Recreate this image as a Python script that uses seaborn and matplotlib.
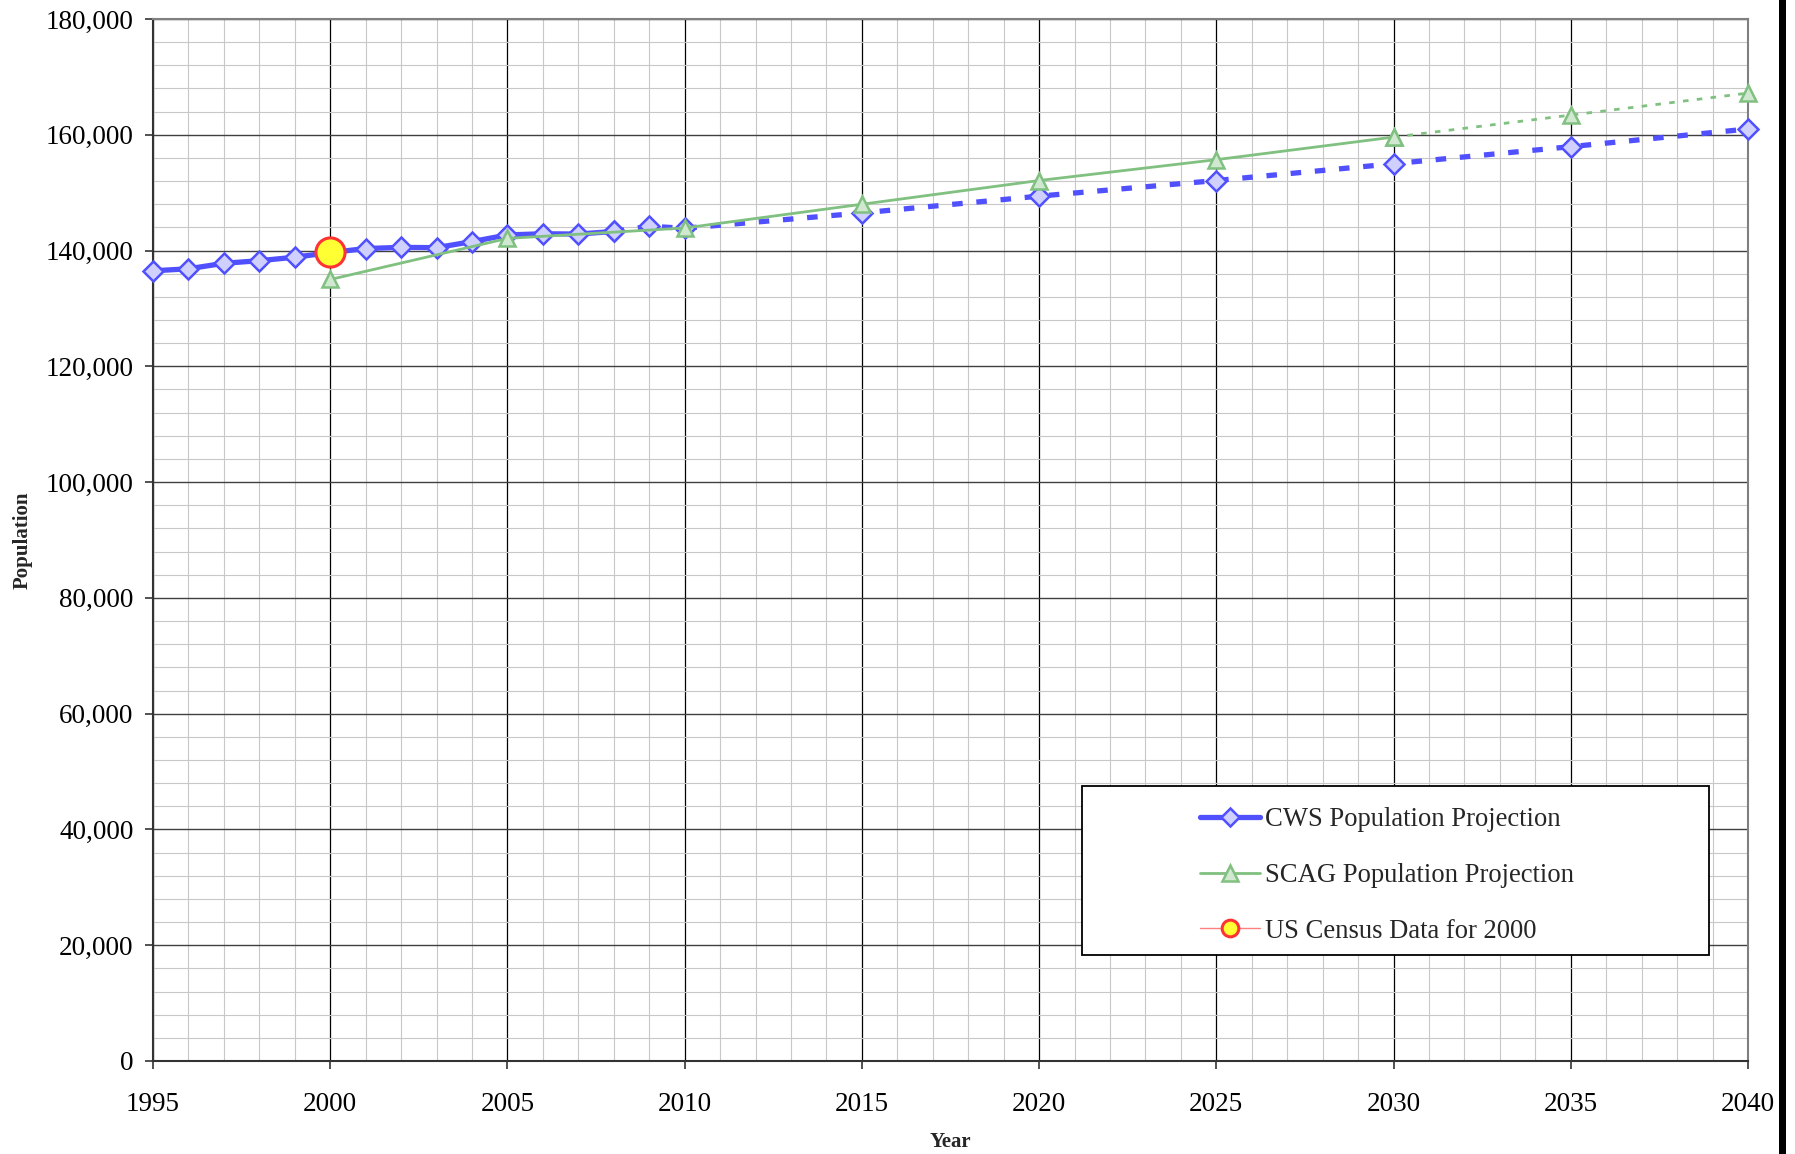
import numpy as np
import pandas as pd
import matplotlib.pyplot as plt
import seaborn as sns
from matplotlib.lines import Line2D
from matplotlib.patches import Rectangle
from matplotlib.ticker import MultipleLocator, FuncFormatter

# CWS projection (solid to 2008, dashed after)
cws_years = [1995, 1996, 1997, 1998, 1999, 2000, 2001, 2002, 2003, 2004, 2005,
             2006, 2007, 2008, 2009, 2010, 2015, 2020, 2025, 2030, 2035, 2040]
cws_pop = [136500, 136850, 137800, 138250, 138850, 139650, 140350, 140550, 140500,
           141550, 142700, 142900, 142850, 143300, 144200, 143850, 146500, 149400,
           152100, 155000, 157950, 161000]
cws_solid_end = 2008

# SCAG projection (solid to 2030, dotted after)
scag_years = [2000, 2005, 2010, 2015, 2020, 2025, 2030, 2035, 2040]
scag_pop = [135000, 142100, 143900, 148000, 152100, 155700, 159600, 163400, 167200]
scag_solid_end = 2030

census_year = [2000]
census_pop = [139700]

labels = ["CWS Population Projection", "SCAG Population Projection", "US Census Data for 2000"]

cws = pd.DataFrame({"year": cws_years, "pop": cws_pop})
scag = pd.DataFrame({"year": scag_years, "pop": scag_pop})
census = pd.DataFrame({"year": census_year, "pop": census_pop})

sns.set_theme(style="ticks")
plt.rcParams["font.family"] = ["Liberation Serif", "DejaVu Serif"]

blue = "#5050FF"
blue_face = "#D0D0FF"
green = "#80C080"
green_face = "#D0E8D0"

fig = plt.figure(figsize=(17.95, 11.54), dpi=100)
ax = fig.add_axes([153 / 1795, 1 - 1061 / 1154, 1595 / 1795, 1042 / 1154])

cws_marker = dict(marker="D", markersize=10, markerfacecolor=blue_face,
                  markeredgecolor=blue, markeredgewidth=1.8, clip_on=False)
sns.lineplot(data=cws[cws.year <= cws_solid_end], x="year", y="pop", color=blue,
             linewidth=3.8, ax=ax, zorder=3, **cws_marker)
sns.lineplot(data=cws[cws.year >= cws_solid_end], x="year", y="pop", color=blue,
             linewidth=3.8, linestyle=(0, (2.0, 2.6)), ax=ax, zorder=3, **cws_marker)

scag_marker = dict(marker="^", markersize=12, markerfacecolor=green_face,
                   markeredgecolor=green, markeredgewidth=1.8, clip_on=False)
sns.lineplot(data=scag[scag.year <= scag_solid_end], x="year", y="pop", color=green,
             linewidth=2.0, ax=ax, zorder=4, **scag_marker)
sns.lineplot(data=scag[scag.year >= scag_solid_end], x="year", y="pop", color=green,
             linewidth=2.0, linestyle=(0, (2, 3)), ax=ax, zorder=4, **scag_marker)

sns.lineplot(data=census, x="year", y="pop", marker="o", markersize=21,
             markerfacecolor="#FFFF33", markeredgecolor="#FF3333", markeredgewidth=2.2,
             linestyle="none", ax=ax, zorder=5, clip_on=False)

ax.set_xlim(1995, 2040)
ax.set_ylim(0, 180000)
ax.xaxis.set_major_locator(MultipleLocator(5))
ax.xaxis.set_minor_locator(MultipleLocator(1))
ax.yaxis.set_major_locator(MultipleLocator(20000))
ax.yaxis.set_minor_locator(MultipleLocator(4000))
ax.yaxis.set_major_formatter(FuncFormatter(lambda v, p: f"{v:,.0f}"))

ax.xaxis.grid(True, which="major", color="black", linewidth=0.9, zorder=1)
ax.yaxis.grid(True, which="major", color="#404040", linewidth=1.0, zorder=1)
ax.grid(True, which="minor", color="#C8C8C8", linewidth=0.8, zorder=0)
ax.set_axisbelow(True)

ax.tick_params(which="major", direction="out", length=6, width=1.2, color="#333333",
               labelsize=19.5, labelcolor="black")
ax.tick_params(axis="x", which="major", pad=16)
ax.tick_params(axis="y", which="major", pad=8)
ax.tick_params(which="minor", length=0)

for side in ["left", "bottom"]:
    ax.spines[side].set_color("#333333")
    ax.spines[side].set_linewidth(1.5)
for side in ["top", "right"]:
    ax.spines[side].set_color("#808080")
    ax.spines[side].set_linewidth(1.5)

ax.set_xlabel("Year", fontsize=15, fontweight="bold")
ax.set_ylabel("Population", fontsize=15, fontweight="bold")
ax.xaxis.set_label_coords(0.5, -0.0777)
ax.xaxis.label.set_va("center")
ax.yaxis.set_label_coords(-0.0815, 0.5)
ax.yaxis.label.set_va("center")

# legend box + entries
ax.add_patch(Rectangle((0.5825, 0.1017), 0.393, 0.1622, transform=ax.transAxes,
                       facecolor="white", edgecolor="black", linewidth=1.3, zorder=6,
                       clip_on=False))
handles = [
    Line2D([], [], color=blue, linewidth=3.8, marker="D", markersize=9,
           markerfacecolor=blue_face, markeredgecolor=blue, markeredgewidth=1.8),
    Line2D([], [], color=green, linewidth=2.0, marker="^", markersize=11,
           markerfacecolor=green_face, markeredgecolor=green, markeredgewidth=1.8),
    Line2D([], [], color="#FF8080", linewidth=1.0, marker="o", markersize=12,
           markerfacecolor="#FFFF33", markeredgecolor="#FF3333", markeredgewidth=2.2),
]
leg = ax.legend(handles=handles, labels=labels, loc="center left",
                bbox_to_anchor=(0.6564, 0.1781), frameon=False, fontsize=19.2,
                borderpad=0, borderaxespad=0, handlelength=2.25, handletextpad=0.2,
                labelspacing=1.15)
leg.set_zorder(7)

# dark bar along right edge of the picture
fig.add_artist(Rectangle((1779 / 1795, 0), 7 / 1795, 1, transform=fig.transFigure,
                         facecolor="black", edgecolor="none"))

fig.savefig("out.png", dpi=100)
